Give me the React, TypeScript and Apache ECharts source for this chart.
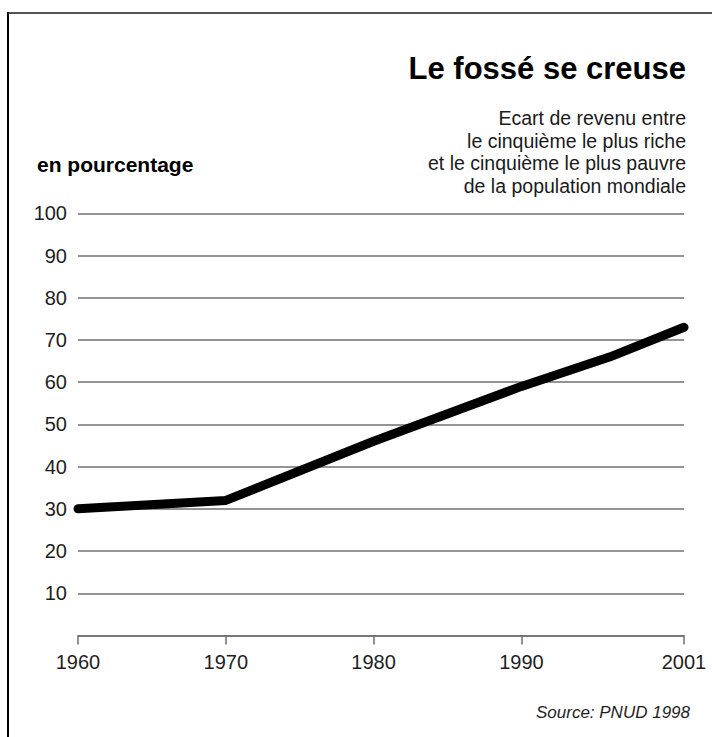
import React, { useEffect, useRef } from "react";
import * as echarts from "echarts";

const years = [1960, 1970, 1980, 1990, 1996, 2001];
const gapValues = [30, 32, 46, 59, 66, 73];
const xTickYears = [1960, 1970, 1980, 1990, 2001];

const title = "Le fossé se creuse";
const subtitleLines = [
  "Ecart de revenu entre",
  "le cinquième le plus riche",
  "et le cinquième le plus pauvre",
  "de la population mondiale",
];
const unitLabel = "en pourcentage";
const sourceLabel = "Source: PNUD 1998";

const SANS = "'Liberation Sans', Arial, sans-serif";

export default function App() {
  const ref = useRef<HTMLDivElement>(null);
  useEffect(() => {
    if (!ref.current) return;
    const chart = echarts.init(ref.current, null, { renderer: "svg" });
    const subs = subtitleLines.map((t, i) => ({
      type: "text",
      x: 686,
      y: 118 + i * 22.7,
      style: {
        text: t,
        fill: "#1a1a1a",
        font: `19.5px ${SANS}`,
        textAlign: "right",
        textVerticalAlign: "middle",
      },
    }));
    chart.setOption({
      animation: false,
      backgroundColor: "#ffffff",
      grid: { left: 78, right: 28, top: 213.3, bottom: 101.5, containLabel: false },
      xAxis: {
        type: "value",
        min: 1960,
        max: 2001,
        interval: 1,
        axisLine: { show: true, lineStyle: { color: "#6e6e6e", width: 1.5 } },
        axisTick: {
          show: true,
          length: 9,
          customValues: xTickYears,
          lineStyle: { color: "#6e6e6e", width: 1.5 },
        },
        axisLabel: {
          customValues: xTickYears,
          margin: 16,
          color: "#1e1e1e",
          fontSize: 20,
          fontFamily: SANS,
          formatter: (v: number) => String(v),
        },
        splitLine: { show: false },
      },
      yAxis: {
        type: "value",
        min: 0,
        max: 100,
        interval: 10,
        axisLine: { show: false },
        axisTick: { show: false },
        axisLabel: {
          margin: 11,
          color: "#1e1e1e",
          fontSize: 20,
          fontFamily: SANS,
          formatter: (v: number) => (v === 0 ? "" : String(v)),
        },
        splitLine: { show: true, lineStyle: { color: "#707070", width: 1.5 } },
      },
      series: [
        {
          type: "line",
          data: years.map((y, i) => [y, gapValues[i]]),
          symbol: "none",
          lineStyle: { color: "#000000", width: 9, cap: "round", join: "round" },
          z: 5,
        },
      ],
      graphic: [
        {
          type: "line",
          shape: { x1: 8, y1: 13, x2: 712, y2: 13 },
          style: { stroke: "#555555", lineWidth: 2 },
        },
        {
          type: "line",
          shape: { x1: 8, y1: 12, x2: 8, y2: 737 },
          style: { stroke: "#000000", lineWidth: 2 },
        },
        {
          type: "text",
          x: 686,
          y: 68,
          style: {
            text: title,
            fill: "#000000",
            font: `bold 31px ${SANS}`,
            textAlign: "right",
            textVerticalAlign: "middle",
          },
        },
        ...subs,
        {
          type: "text",
          x: 37,
          y: 164,
          style: {
            text: unitLabel,
            fill: "#000000",
            font: `bold 21px ${SANS}`,
            textAlign: "left",
            textVerticalAlign: "middle",
          },
        },
        {
          type: "text",
          x: 690,
          y: 712,
          style: {
            text: sourceLabel,
            fill: "#1e1e1e",
            font: `italic 17px ${SANS}`,
            textAlign: "right",
            textVerticalAlign: "middle",
          },
        },
      ],
    });
    return () => chart.dispose();
  }, []);
  return (
    <div
      ref={ref}
      style={{ position: "fixed", left: 0, top: 0, width: 712, height: 737 }}
    />
  );
}
